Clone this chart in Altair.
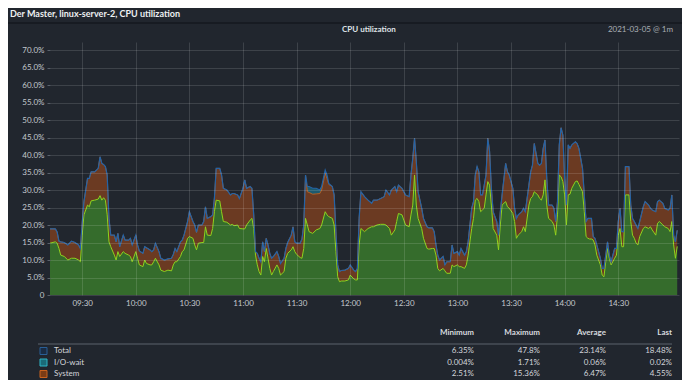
import altair as alt
import pandas as pd

# ---------------- data ----------------
times = ["09:12","09:15","09:16","09:17","09:18","09:20","09:22","09:24","09:26","09:28","09:29","09:30","09:31","09:33","09:34","09:35","09:37","09:39","09:40","09:41","09:42","09:43","09:44","09:45","09:46","09:48","09:49","09:50","09:51","09:53","09:54","09:56","09:57","09:58",
"10:00","10:01","10:02","10:04","10:05","10:06","10:08","10:09","10:10","10:11","10:13","10:14","10:16","10:18","10:20","10:21","10:22","10:23","10:25","10:26","10:27","10:29","10:30","10:32","10:33","10:34","10:35","10:37","10:38","10:39","10:40","10:42","10:43","10:44","10:45","10:47","10:48","10:49","10:51","10:53","10:54","10:55","10:57","10:58",
"11:00","11:01","11:02","11:04","11:05","11:06","11:07","11:08","11:09","11:10","11:11","11:12","11:13","11:14","11:15","11:16","11:17","11:19","11:20","11:21","11:23","11:24","11:25","11:27","11:28","11:29","11:30","11:32","11:33","11:34","11:35","11:36","11:37","11:39","11:41","11:43","11:44","11:46","11:47","11:48","11:50","11:51","11:52","11:53","11:54","11:55","11:57","11:59",
"12:00","12:02","12:03","12:04","12:05","12:06","12:08","12:10","12:12","12:13","12:15","12:17","12:19","12:20","12:22","12:23","12:25","12:26","12:27","12:29","12:30","12:31","12:33","12:34","12:35","12:36","12:37","12:38","12:40","12:41","12:43","12:44","12:46","12:47","12:48","12:49","12:50","12:52","12:53","12:54","12:56","12:57","12:58",
"13:00","13:01","13:02","13:04","13:05","13:06","13:08","13:09","13:10","13:11","13:12","13:13","13:14","13:15","13:16","13:17","13:18","13:19","13:20","13:22","13:23","13:24","13:25","13:27","13:28","13:29","13:31","13:32","13:33","13:34","13:36","13:37","13:38","13:40","13:41","13:42","13:43","13:45","13:46","13:47","13:48","13:49","13:50","13:51","13:53","13:54","13:55","13:56","13:57","13:58","13:59",
"14:00","14:01","14:02","14:03","14:04","14:06","14:07","14:08","14:10","14:11","14:12","14:13","14:14","14:15","14:16","14:17","14:18","14:20","14:21","14:22","14:23","14:24","14:25","14:26","14:28","14:29","14:30","14:31","14:32","14:33","14:34","14:36","14:37","14:38","14:39","14:40","14:41","14:42","14:44","14:45","14:47","14:48","14:49","14:51","14:52","14:53","14:55","14:56","14:58","14:59",
"15:00","15:01","15:02","15:03"]

total = [18.9,18.9,18.0,15.4,15.2,15.0,14.3,15.4,15.0,14.3,13.3,20.5,26.7,33.3,33.3,35.2,35.2,36.2,39.5,37.6,37.3,36.7,34.3,21.9,17.1,17.1,15.2,17.6,13.8,17.1,15.7,15.7,16.2,14.3,
17.1,14.3,12.6,11.9,13.8,13.5,12.9,12.4,12.9,14.8,12.4,10.5,10.0,10.3,10.5,11.6,13.3,12.4,15.2,15.7,17.1,21.0,23.8,21.0,20.0,17.9,20.0,20.0,21.0,25.2,21.9,22.4,22.9,27.6,36.2,36.2,34.3,30.5,30.0,28.6,29.0,29.0,28.6,27.6,
30.5,32.9,30.5,31.0,30.5,22.9,12.4,11.9,10.5,9.5,15.2,12.4,16.2,14.3,11.9,10.5,11.0,12.4,11.0,9.0,10.5,13.3,15.0,17.1,19.5,15.2,14.8,14.8,16.0,20.0,34.3,31.0,31.0,30.5,30.5,30.0,31.0,35.7,34.3,31.9,31.0,28.6,18.1,8.6,6.7,7.0,7.1,7.6,
8.6,7.1,6.7,7.6,21.9,29.5,28.1,27.1,26.2,27.1,27.1,27.6,28.1,30.0,28.6,30.0,31.0,29.5,31.4,30.5,29.5,28.6,28.1,34.3,39.0,44.8,38.1,29.5,24.8,21.9,19.5,19.2,19.2,18.1,14.3,11.4,10.0,11.0,8.6,9.5,9.5,14.3,11.9,
12.4,11.4,13.3,11.4,12.4,15.2,24.8,26.7,34.3,36.7,35.2,28.6,28.6,31.4,34.3,44.8,41.0,30.5,23.8,21.0,17.1,23.8,28.6,37.6,35.2,34.3,30.5,24.8,21.9,22.9,23.8,24.8,23.8,31.4,35.2,37.1,43.3,37.6,37.1,37.6,41.9,44.3,33.3,25.7,25.7,24.8,21.0,26.7,42.9,47.8,45.7,
33.3,25.7,42.9,41.9,42.9,43.8,43.3,41.9,36.2,28.6,21.0,21.9,21.9,21.9,16.7,16.2,14.3,10.5,7.6,7.6,11.4,15.2,11.4,9.5,13.3,13.3,21.0,24.8,18.1,18.1,36.7,36.7,25.7,21.9,21.0,20.0,19.0,21.0,25.2,26.7,25.7,24.8,24.3,23.8,26.7,27.1,26.2,24.8,24.3,24.8,
28.6,17.1,15.2,18.5]

user = [14.8,15.2,14.8,13.3,11.4,11.0,10.0,10.5,10.5,10.0,9.5,17.1,22.9,25.7,25.2,26.9,27.1,27.4,28.4,27.1,27.8,27.1,22.9,15.2,13.8,11.4,10.0,12.4,11.0,12.4,11.9,11.4,11.0,9.5,
12.4,10.5,8.6,8.1,10.0,9.0,8.6,8.6,9.5,10.5,8.6,7.1,6.7,7.1,6.9,8.6,9.5,9.5,11.0,12.4,12.9,16.2,16.7,16.2,14.3,12.9,14.8,15.0,15.0,19.5,17.1,17.0,19.0,23.8,27.1,26.9,23.8,21.0,20.8,20.0,20.2,19.8,20.0,19.0,
18.9,18.9,20.0,21.4,21.9,19.0,11.4,8.6,6.7,5.7,11.0,9.5,13.3,10.5,7.6,5.7,6.7,8.6,7.6,5.7,6.7,10.5,11.9,12.9,13.8,12.4,11.6,10.7,10.5,13.3,21.9,20.0,18.1,17.6,18.6,19.0,20.0,23.8,22.9,22.4,21.9,20.0,12.4,5.2,3.8,4.0,4.0,4.3,
5.7,4.6,4.3,4.3,14.3,19.0,18.1,19.0,19.5,19.5,20.0,20.2,20.2,20.0,19.0,17.1,18.6,21.0,23.3,22.9,21.4,20.0,19.5,22.9,25.7,34.3,25.7,21.9,19.0,16.2,13.3,13.1,13.3,13.3,11.4,7.6,6.9,7.6,6.9,6.2,6.2,8.6,8.1,
8.6,8.1,8.1,7.6,8.6,11.4,19.0,21.9,27.1,27.6,26.7,23.8,24.3,24.8,28.6,32.4,31.4,25.7,19.0,17.1,12.9,20.0,25.7,26.7,25.2,24.8,23.3,21.0,16.2,17.1,18.1,19.5,18.1,25.7,27.6,28.1,29.5,28.6,27.6,27.1,28.6,32.9,25.7,21.9,21.0,20.0,17.1,22.9,34.3,33.8,32.4,
28.6,20.0,28.6,28.8,30.5,32.4,32.6,31.6,29.5,23.8,16.7,16.2,16.0,16.0,15.7,14.3,11.4,8.6,5.7,5.2,9.5,13.3,10.5,8.6,10.5,11.4,17.1,19.0,13.8,13.8,28.6,28.6,21.0,17.1,16.2,14.8,14.3,16.7,19.0,19.5,19.0,19.5,18.6,17.1,20.5,21.0,20.0,19.5,19.0,18.1,
21.0,14.3,10.5,13.9]

# I/O-wait where it is visible (on top of System); elsewhere it is negligible
io_times = ["11:36","11:37","11:39","11:41","11:43","11:44","11:46","11:47","11:48"]
io_values = [1.5, 1.7, 1.7, 1.6, 1.0, 1.0, 0.9, 1.0, 0.3]
io_background = 0.02

y_ticks = [0, 5, 10, 15, 20, 25, 30, 35, 40, 45, 50, 55, 60, 65, 70]
x_tick_times = ["09:30","10:00","10:30","11:00","11:30","12:00","12:30","13:00","13:30","14:00","14:30"]
x_start, x_end = "09:12", "15:04"
y_max = 72.3

legend_names = ["Total", "I/O-wait", "System"]
legend_headers = ["Minimum", "Maximum", "Average", "Last"]
legend_min = ["6.35%", "0.004%", "2.51%"]
legend_max = ["47.8%", "1.71%", "15.36%"]
legend_avg = ["23.14%", "0.06%", "6.47%"]
legend_last = ["18.48%", "0.02%", "4.55%"]

title_text = "Der Master, linux-server-2, CPU utilization"
graph_title = "CPU utilization"
date_text = "2021-03-05 @ 1m"

# ---------------- build table ----------------
def to_min(s):
    h, m = s.split(":")
    return int(h) * 60 + int(m)

io_map = {to_min(t): v for t, v in zip(io_times, io_values)}
df = pd.DataFrame({"t": [to_min(s) for s in times], "total": total, "user": user})
df["io"] = [io_map.get(t, io_background) for t in df["t"]]
df["sys_top"] = df["total"] - df["io"]

W, H = 629, 253
BG = "#21262e"
TXT = "#d2d5da"
FONT = "Lato"

x_scale = alt.Scale(domain=[to_min(x_start), to_min(x_end)], nice=False, zero=False)
y_scale = alt.Scale(domain=[0, y_max], nice=False)

x_axis = alt.Axis(values=[to_min(s) for s in x_tick_times],
                  labelExpr="(floor(datum.value/60) < 10 ? '0' : '') + floor(datum.value/60) + ':' + (datum.value % 60 == 0 ? '00' : '30')",
                  grid=True, gridColor="#ffffff", gridOpacity=0.13, ticks=False, domain=False,
                  labelColor="#c4c8cd", labelFont=FONT, labelFontSize=8, labelPadding=4, title=None, zindex=1)
y_axis = alt.Axis(values=y_ticks,
                  labelExpr="datum.value == 0 ? '0' : format(datum.value, '.1f') + '%'",
                  grid=True, gridColor="#ffffff", gridOpacity=0.13, ticks=True, tickSize=3,
                  tickColor="#5a616b", domain=False,
                  labelColor="#c4c8cd", labelFont=FONT, labelFontSize=8, labelPadding=3, title=None, zindex=1)

X = alt.X("t:Q", scale=x_scale, axis=x_axis)

base = alt.Chart(df)
user_area = base.mark_area(color="#356c2c", interpolate="linear").encode(
    x=X, y=alt.Y("user:Q", scale=y_scale, axis=y_axis))
sys_area = base.mark_area(color="#6b3a22").encode(
    x=X, y=alt.Y("sys_top:Q", scale=y_scale, axis=y_axis), y2="user:Q")
io_area = base.mark_area(color="#1d5a6e").encode(
    x=X, y=alt.Y("total:Q", scale=y_scale, axis=y_axis), y2="sys_top:Q")
sys_line = base.mark_line(color="#d2691e", strokeWidth=0.8).encode(
    x=X, y=alt.Y("sys_top:Q", scale=y_scale, axis=y_axis))
total_line = base.mark_line(color="#2463a6", strokeWidth=1.2).encode(
    x=X, y=alt.Y("total:Q", scale=y_scale, axis=y_axis))
user_line = base.mark_line(color="#8fd41e", strokeWidth=1).encode(
    x=X, y=alt.Y("user:Q", scale=y_scale, axis=y_axis))

one = pd.DataFrame({"k": [0]})

def label(text, x, y, size=8, color=TXT, align="left", weight="normal"):
    return alt.Chart(one).mark_text(text=text, align=align, baseline="middle", fontSize=size,
                                    font=FONT, color=color, fontWeight=weight).encode(
        x=alt.value(x), y=alt.value(y))

def hline(x1, x2, y, color, width=1):
    return alt.Chart(one).mark_rule(color=color, strokeWidth=width).encode(
        x=alt.value(x1), x2=alt.value(x2), y=alt.value(y))

def box(x1, x2, y1, y2, fill, stroke):
    return alt.Chart(one).mark_rect(fill=fill, stroke=stroke, strokeWidth=1).encode(
        x=alt.value(x1), x2=alt.value(x2), y=alt.value(y1), y2=alt.value(y2))

# positions relative to the plot origin (page x=50, y=42)
deco = [
    label(title_text, -40, -28, size=9, color="#eef0f2", weight="bold"),
    hline(-50, 640, -19, "#15191f", 1.5),
    label(graph_title, 292, -12, size=8, color="#dfe2e6", weight="bold"),
    label(date_text, 623, -12, size=8, color="#a9aeb4", align="right"),
    hline(-12, 622, 302, "#5c636c", 1),
]
col_x = [424, 490, 556, 622]
for cx, h in zip(col_x, legend_headers):
    deco.append(label(h, cx, 291, color="#d7dadf", align="right", weight="bold"))
row_y = [309, 320.5, 332]
sw_fill = ["#1a2c44", "#1a6b78", "#7a3c16"]
sw_stroke = ["#2a5f96", "#2fb3c4", "#c8621e"]
for i, ry in enumerate(row_y):
    deco.append(box(-10, -3, ry - 3.5, ry + 3.5, sw_fill[i], sw_stroke[i]))
    deco.append(label(legend_names[i], 4, ry))
    for cx, col in zip(col_x, [legend_min, legend_max, legend_avg, legend_last]):
        deco.append(label(col[i], cx, ry, align="right"))

chart = alt.layer(user_area, sys_area, io_area, user_line, sys_line, total_line, *deco).properties(
    width=W, height=H,
    padding={"left": 42, "top": 34, "right": 3, "bottom": 85},
    autosize=alt.AutoSizeParams(type="none"),
    background=BG,
).configure_view(strokeWidth=0)

chart.save("out.html", embed_options={"renderer": "svg", "actions": False})
